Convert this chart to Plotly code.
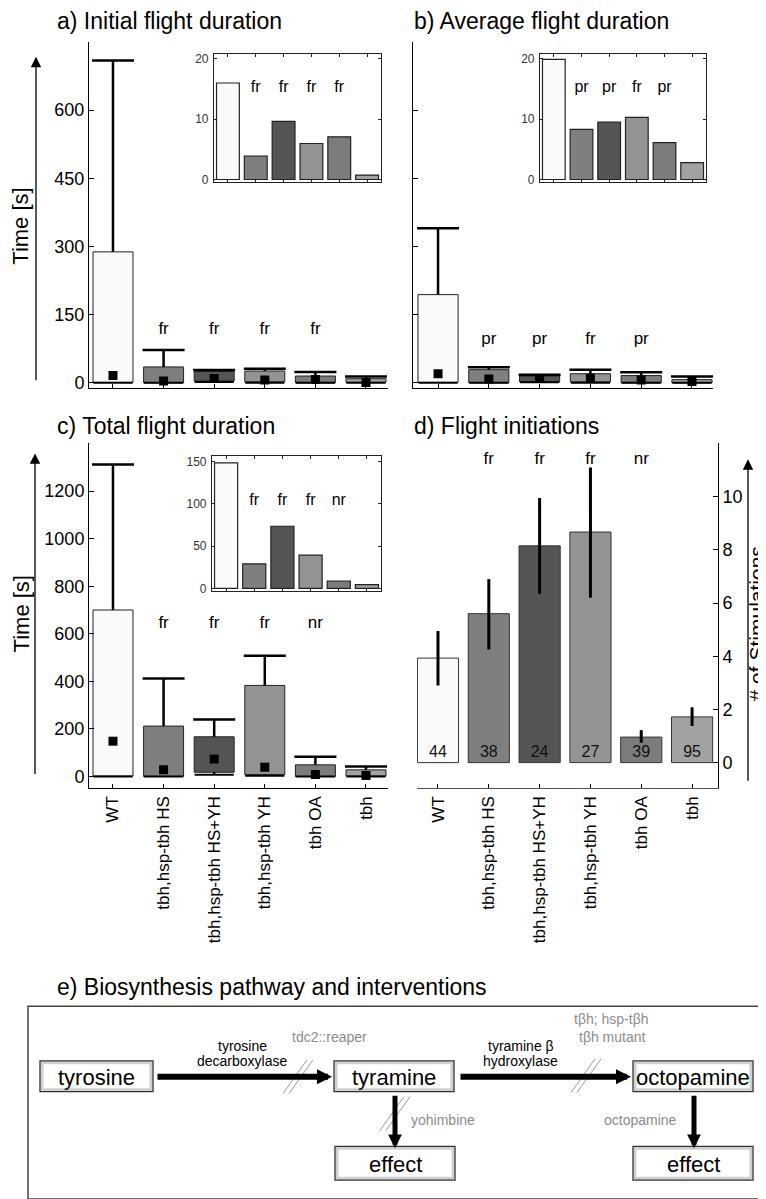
import plotly.graph_objects as go

W, H = 766, 1199
def px(x): return x / W
def py(y): return 1 - y / H

# ---------------- data ----------------
categories = ["WT", "tbh,hsp-tbh HS", "tbh,hsp-tbh HS+YH", "tbh,hsp-tbh YH", "tbh OA", "tbh"]
positions = [1, 2, 3, 4, 5, 6]
bar_colors = ["#fafafa", "#7f7f7f", "#555555", "#939393", "#7c7c7c", "#a2a2a2"]

# a) initial flight duration [s]
init_q1 = [1, 0, 4, 2, 0, 1]
init_q3 = [288, 35, 25, 26, 15, 9]
init_lo = [0, 0, 2, 0, 0, 0]
init_hi = [709, 72, 28, 31, 24, 14]
init_med = [16.0, 3.9, 9.65, 5.97, 7.07, 0.74]
init_sig = ["", "fr", "fr", "fr", "fr", ""]

# b) average flight duration [s]
avg_q1 = [1, 0, 2, 2, 0, 0]
avg_q3 = [194, 29, 15, 20, 16, 7]
avg_lo = [0, 0, 1, 0, 0, 0]
avg_hi = [340, 34, 18, 29, 23, 14]
avg_med = [19.9, 8.3, 9.5, 10.3, 6.1, 2.8]
avg_sig = ["", "pr", "pr", "fr", "pr", ""]

# c) total flight duration [s]
tot_q1 = [2, 0, 18, 8, 0, 2]
tot_q3 = [700, 212, 167, 383, 49, 28]
tot_lo = [0, 0, 7, 3, 0, 0]
tot_hi = [1312, 412, 240, 508, 83, 42]
tot_med = [148.5, 29, 73.5, 39.3, 8.7, 4.4]
tot_sig = ["", "fr", "fr", "fr", "nr", ""]

# d) flight initiations (# of stimulations)
fi_mean = [3.93, 5.6, 8.15, 8.67, 0.96, 1.72]
fi_hi = [4.95, 6.9, 9.95, 11.1, 1.22, 2.08]
fi_lo = [2.9, 4.25, 6.35, 6.2, 0.75, 1.38]
fi_n = [44, 38, 24, 27, 39, 95]
fi_sig = ["", "fr", "fr", "fr", "nr", ""]

# ---------------- figure ----------------
fig = go.Figure()
FONT = "Liberation Sans, Arial, sans-serif"


def box_panel(xa, ya, q1, q3, lo, hi, med):
    fig.add_trace(go.Bar(x=positions, y=[b - a for a, b in zip(q1, q3)], base=q1, width=0.79,
                         marker=dict(color=bar_colors, line=dict(color="#222", width=1)),
                         xaxis=xa, yaxis=ya))
    wx, wy = [], []
    for p, a, b, l, h in zip(positions, q1, q3, lo, hi):
        wx += [p, p, None, p, p, None]
        wy += [b, h, None, l, a, None]
    fig.add_trace(go.Scatter(x=wx, y=wy, mode="lines", line=dict(color="black", width=2.5),
                             xaxis=xa, yaxis=ya))
    fig.add_trace(go.Scatter(x=positions, y=hi, mode="markers",
                             marker=dict(symbol="line-ew", size=30, line=dict(color="black", width=2.5)),
                             xaxis=xa, yaxis=ya, cliponaxis=False))
    fig.add_trace(go.Scatter(x=positions, y=lo, mode="markers",
                             marker=dict(symbol="line-ew", size=28, line=dict(color="black", width=2)),
                             xaxis=xa, yaxis=ya, cliponaxis=False))
    fig.add_trace(go.Scatter(x=positions, y=med, mode="markers",
                             marker=dict(symbol="square", size=9, color="black"),
                             xaxis=xa, yaxis=ya))


def inset(xa, ya, med):
    fig.add_trace(go.Bar(x=positions, y=med, width=0.82,
                         marker=dict(color=bar_colors, line=dict(color="#222", width=1.2)),
                         xaxis=xa, yaxis=ya))


def sig(xa, ya, labels, level, size=17):
    fig.add_trace(go.Scatter(x=positions, y=[level] * len(positions), text=labels, mode="text",
                             textfont=dict(size=size, color="black", family=FONT),
                             xaxis=xa, yaxis=ya, cliponaxis=False))


box_panel("x", "y", init_q1, init_q3, init_lo, init_hi, init_med)
sig("x", "y", init_sig, 116)
inset("x2", "y2", init_med)
sig("x2", "y2", init_sig, 15.1, 16)

box_panel("x3", "y3", avg_q1, avg_q3, avg_lo, avg_hi, avg_med)
sig("x3", "y3", avg_sig, 94)
inset("x4", "y4", avg_med)
sig("x4", "y4", avg_sig, 15.1, 16)

box_panel("x5", "y5", tot_q1, tot_q3, tot_lo, tot_hi, tot_med)
sig("x5", "y5", tot_sig, 642)
inset("x6", "y6", tot_med)
sig("x6", "y6", tot_sig, 103, 16)

fig.add_trace(go.Bar(x=positions, y=fi_mean, width=0.81,
                     marker=dict(color=bar_colors, line=dict(color="#333", width=1)),
                     error_y=dict(type="data", symmetric=False,
                                  array=[h - m for h, m in zip(fi_hi, fi_mean)],
                                  arrayminus=[m - l for m, l in zip(fi_mean, fi_lo)],
                                  width=0, thickness=3, color="black"),
                     xaxis="x7", yaxis="y7"))
fig.add_trace(go.Scatter(x=positions, y=[0.37] * 6, text=[str(v) for v in fi_n], mode="text",
                         textfont=dict(size=16, color="#111", family=FONT),
                         xaxis="x7", yaxis="y7"))
sig("x7", "y7", fi_sig, 11.4)

# ---------------- axes ----------------
base_ax = dict(showline=True, linecolor="black", linewidth=1, ticks="inside", ticklen=4,
               tickcolor="black", showgrid=False, zeroline=False, fixedrange=True,
               tickfont=dict(family=FONT, size=18, color="black"))

def xmain(dom, rng, anchor, labels=False, lc="black"):
    d = dict(base_ax, domain=[px(dom[0]), px(dom[1])], range=rng, anchor=anchor,
             tickvals=positions, linecolor=lc)
    if labels:
        d.update(ticktext=categories, showticklabels=True, tickangle=-90,
                 tickfont=dict(family=FONT, size=17, color="black"))
    else:
        d.update(showticklabels=False)
    return d

def ymain(dom, rng, anchor, vals, labels=True, side="left"):
    txt = [str(v) for v in vals[:-1]] + [""]
    d = dict(base_ax, domain=[py(dom[1]), py(dom[0])], range=rng, anchor=anchor,
             tickvals=vals, ticktext=txt, showticklabels=labels, side=side, ticklen=5)
    return d

inset_ax = dict(showline=True, linecolor="#222", linewidth=1.2, mirror="ticks", ticks="inside",
                ticklen=3, tickcolor="#222", showgrid=False, zeroline=False, fixedrange=True,
                tickfont=dict(family=FONT, size=12, color="#333"))

def xin(dom, anchor):
    return dict(inset_ax, domain=[px(dom[0]), px(dom[1])], range=[0.5, 6.5], anchor=anchor,
                tickvals=positions, showticklabels=False)

def yin(dom, rng, anchor, vals):
    return dict(inset_ax, domain=[py(dom[1]), py(dom[0])], range=rng, anchor=anchor,
                tickvals=vals, ticklabelstandoff=2)

fig.update_layout(
    xaxis=xmain((81, 380), [0.526, 6.435], "y"),
    yaxis=ymain((32, 380), [-10.9, 750], "x", [0, 150, 300, 450, 600, 750]),
    xaxis2=xin((206, 373), "y2"),
    yaxis2=yin((44.3, 172.7), [-0.36, 20.8], "x2", [0, 10, 20]),
    xaxis3=xmain((405, 705), [0.507, 6.414], "y3"),
    yaxis3=ymain((32, 380), [-10.9, 750], "x3", [0, 150, 300, 450, 600, 750], labels=False),
    xaxis4=xin((532, 698), "y4"),
    yaxis4=yin((44.3, 172.7), [-0.36, 20.8], "x4", [0, 10, 20]),
    xaxis5=xmain((81, 380), [0.526, 6.435], "y5", labels=True),
    yaxis5=ymain((436, 783), [-50, 1400], "x5", [0, 200, 400, 600, 800, 1000, 1200, 1400]),
    xaxis6=xin((204, 373), "y6"),
    yaxis6=yin((448.7, 584.3), [-3, 156.6], "x6", [0, 50, 100, 150]),
    xaxis7=xmain((409, 710), [0.587, 6.51], "y7", labels=True, lc="#555"),
    yaxis7=ymain((436, 783), [-0.97, 12], "x7", [0, 2, 4, 6, 8, 10, 12], side="right"),
)

# ---------------- annotations ----------------
ann = []
def text(x, y, s, size, color="black", angle=0, xanchor="center"):
    ann.append(dict(x=px(x), y=py(y), xref="paper", yref="paper", text=s, showarrow=False,
                    font=dict(size=size, color=color, family=FONT), textangle=angle,
                    xanchor=xanchor, yanchor="middle"))

def arrow(hx, hy, tx, ty, width, size, head=2, color="black"):
    ann.append(dict(x=px(hx), y=py(hy), xref="paper", yref="paper", text="", showarrow=True,
                    ax=tx - hx, ay=ty - hy, axref="pixel", ayref="pixel",
                    arrowhead=head, arrowwidth=width, arrowsize=size, arrowcolor=color))

text(47, 11, "a) Initial flight duration", 23, xanchor="left")
text(404, 11, "b) Average flight duration", 23, xanchor="left")
text(47, 418, "c) Total flight duration", 23, xanchor="left")
text(404, 418, "d) Flight initiations", 23, xanchor="left")
text(13, 218, "Time [s]", 22, angle=-90)
text(13, 608, "Time [s]", 22, angle=-90)
text(748, 618, "# of Stimulations", 21, angle=-90)
arrow(28, 47, 28, 372, 1.3, 1.6)
arrow(27, 446, 27, 768, 1.3, 1.6)
arrow(740, 452, 740, 775, 1.3, 1.6)

# e) pathway diagram
text(47, 983, "e) Biosynthesis pathway and interventions", 23, xanchor="left")
shapes = [dict(type="rect", xref="paper", yref="paper", x0=px(20), x1=px(757), y0=py(1196), y1=py(1002),
               line=dict(color="#444", width=1.5))]
boxes = [(32, 145, 1057, 1088, "tyrosine"), (326, 446, 1057, 1088, "tyramine"),
         (625, 745, 1057, 1088, "octopamine"), (327, 447, 1143, 1177, "effect"),
         (625, 745, 1143, 1177, "effect")]
for x0, x1, y0, y1, lbl in boxes:
    shapes.append(dict(type="rect", xref="paper", yref="paper", x0=px(x0 + 2), x1=px(x1 - 2),
                       y0=py(y1 - 2), y1=py(y0 + 2), line=dict(color="#d0d0d0", width=3)))
    shapes.append(dict(type="rect", xref="paper", yref="paper", x0=px(x0), x1=px(x1),
                       y0=py(y1), y1=py(y0), line=dict(color="#333", width=1.3)))
    text((x0 + x1) / 2, (y0 + y1) / 2 + 1, lbl, 22)

arrow(324, 1073, 148, 1073, 6, 0.5)
arrow(623, 1073, 451, 1073, 6, 0.5)
arrow(387, 1145, 387, 1091, 5, 0.55)
arrow(686, 1145, 686, 1091, 5, 0.55)

text(234, 1042, "tyrosine", 14)
text(234, 1057, "decarboxylase", 14)
text(513, 1042, "tyramine β", 14)
text(512, 1057, "hydroxylase", 14)
G = "#8c8c8c"
text(321, 1033, "tdc2::reaper", 14, color=G)
text(603, 1015, "tβh; hsp-tβh", 14, color=G)
text(604, 1033, "tβh mutant", 14, color=G)
text(435, 1117, "yohimbine", 14, color=G)
text(632, 1117, "octopamine", 14, color=G)

# interruption marks "//"
for cx, cy in [(290, 1073), (578, 1072), (387, 1110)]:
    for off in (-3, 3):
        shapes.append(dict(type="line", xref="paper", yref="paper",
                           x0=px(cx + off - 12), y0=py(cy + 17), x1=px(cx + off + 12), y1=py(cy - 17),
                           line=dict(color="#999", width=1)))

fig.update_layout(width=W, height=H, margin=dict(l=0, r=0, t=0, b=0), showlegend=False,
                  plot_bgcolor="white", paper_bgcolor="white", barmode="overlay",
                  annotations=ann, shapes=shapes, font=dict(family=FONT))

fig.write_html("out.html")
